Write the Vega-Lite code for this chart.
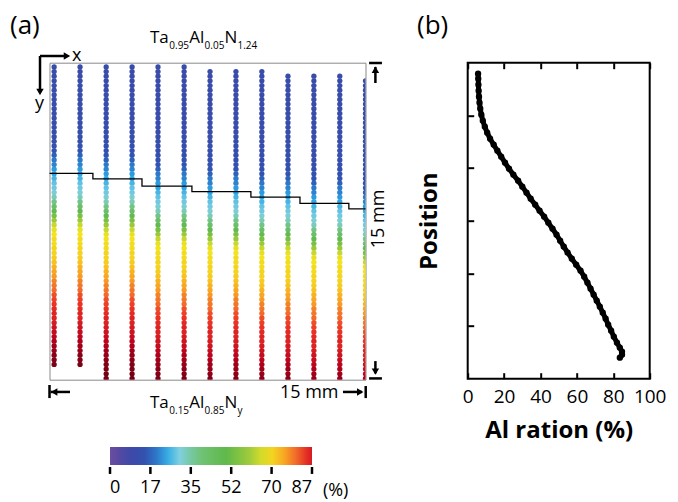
{
"$schema": "https://vega.github.io/schema/vega-lite/v6.json",
"background": "white",
"padding": {"left": 9.5, "top": 11.7, "right": 0, "bottom": 0},
"bounds": "flush",
"spacing": 102.2,
"config": {"font": "Open Sans", "view": {"stroke": null}},
"hconcat": [
{
"width": 316, "height": 317,
"view": {"stroke": "#8a8a8a", "strokeWidth": 1},
"encoding": {
"x": {"field": "c", "type": "quantitative", "scale": {"domain": [0, 15], "nice": false, "zero": false}, "axis": null},
"y": {"field": "p", "type": "quantitative", "scale": {"domain": [0, 15], "nice": false, "zero": false, "reverse": true}, "axis": null}
},
"layer": [
{
"data": {"values": [
{"c":0.22,"p":0.2,"v":11},{"c":0.22,"p":0.42,"v":11},{"c":0.22,"p":0.64,"v":11},{"c":0.22,"p":0.86,"v":11},{"c":0.22,"p":1.08,"v":11},{"c":0.22,"p":1.3,"v":12},{"c":0.22,"p":1.52,"v":12},{"c":0.22,"p":1.74,"v":12},{"c":0.22,"p":1.96,"v":12},{"c":0.22,"p":2.18,"v":12},{"c":0.22,"p":2.4,"v":12},{"c":0.22,"p":2.62,"v":12},{"c":0.22,"p":2.84,"v":13},{"c":0.22,"p":3.06,"v":13},{"c":0.22,"p":3.28,"v":13},{"c":0.22,"p":3.5,"v":13},{"c":0.22,"p":3.72,"v":14},{"c":0.22,"p":3.94,"v":15},{"c":0.22,"p":4.16,"v":16},{"c":0.22,"p":4.38,"v":18},{"c":0.22,"p":4.6,"v":20},{"c":0.22,"p":4.82,"v":21},{"c":0.22,"p":5.04,"v":23},{"c":0.22,"p":5.26,"v":24},{"c":0.22,"p":5.48,"v":26},{"c":0.22,"p":5.7,"v":28},{"c":0.22,"p":5.92,"v":29},{"c":0.22,"p":6.14,"v":31},{"c":0.22,"p":6.36,"v":33},{"c":0.22,"p":6.58,"v":37},{"c":0.22,"p":6.8,"v":42},{"c":0.22,"p":7.02,"v":48},{"c":0.22,"p":7.24,"v":54},{"c":0.22,"p":7.46,"v":59},{"c":0.22,"p":7.68,"v":64},{"c":0.22,"p":7.9,"v":67},{"c":0.22,"p":8.12,"v":68},{"c":0.22,"p":8.34,"v":69},{"c":0.22,"p":8.56,"v":69},{"c":0.22,"p":8.78,"v":70},{"c":0.22,"p":9,"v":70},{"c":0.22,"p":9.22,"v":71},{"c":0.22,"p":9.44,"v":72},{"c":0.22,"p":9.66,"v":74},{"c":0.22,"p":9.88,"v":75},{"c":0.22,"p":10.1,"v":76},{"c":0.22,"p":10.32,"v":78},{"c":0.22,"p":10.54,"v":79},{"c":0.22,"p":10.76,"v":80},{"c":0.22,"p":10.98,"v":82},{"c":0.22,"p":11.2,"v":83},{"c":0.22,"p":11.42,"v":84},{"c":0.22,"p":11.64,"v":85},{"c":0.22,"p":11.86,"v":86},{"c":0.22,"p":12.08,"v":86},{"c":0.22,"p":12.3,"v":87},{"c":0.22,"p":12.52,"v":88},{"c":0.22,"p":12.74,"v":89},{"c":0.22,"p":12.96,"v":90},{"c":0.22,"p":13.18,"v":92},{"c":0.22,"p":13.4,"v":94},{"c":0.22,"p":13.62,"v":95},{"c":0.22,"p":13.84,"v":97},{"c":0.22,"p":14.06,"v":98},{"c":0.22,"p":14.28,"v":99},
{"c":1.45,"p":0.2,"v":11},{"c":1.45,"p":0.42,"v":11},{"c":1.45,"p":0.64,"v":11},{"c":1.45,"p":0.86,"v":11},{"c":1.45,"p":1.08,"v":11},{"c":1.45,"p":1.3,"v":12},{"c":1.45,"p":1.52,"v":12},{"c":1.45,"p":1.74,"v":12},{"c":1.45,"p":1.96,"v":12},{"c":1.45,"p":2.18,"v":12},{"c":1.45,"p":2.4,"v":12},{"c":1.45,"p":2.62,"v":12},{"c":1.45,"p":2.84,"v":13},{"c":1.45,"p":3.06,"v":13},{"c":1.45,"p":3.28,"v":13},{"c":1.45,"p":3.5,"v":13},{"c":1.45,"p":3.72,"v":14},{"c":1.45,"p":3.94,"v":15},{"c":1.45,"p":4.16,"v":16},{"c":1.45,"p":4.38,"v":18},{"c":1.45,"p":4.6,"v":20},{"c":1.45,"p":4.82,"v":21},{"c":1.45,"p":5.04,"v":23},{"c":1.45,"p":5.26,"v":24},{"c":1.45,"p":5.48,"v":26},{"c":1.45,"p":5.7,"v":28},{"c":1.45,"p":5.92,"v":29},{"c":1.45,"p":6.14,"v":31},{"c":1.45,"p":6.36,"v":33},{"c":1.45,"p":6.58,"v":37},{"c":1.45,"p":6.8,"v":42},{"c":1.45,"p":7.02,"v":48},{"c":1.45,"p":7.24,"v":54},{"c":1.45,"p":7.46,"v":59},{"c":1.45,"p":7.68,"v":64},{"c":1.45,"p":7.9,"v":67},{"c":1.45,"p":8.12,"v":68},{"c":1.45,"p":8.34,"v":69},{"c":1.45,"p":8.56,"v":69},{"c":1.45,"p":8.78,"v":70},{"c":1.45,"p":9,"v":70},{"c":1.45,"p":9.22,"v":71},{"c":1.45,"p":9.44,"v":72},{"c":1.45,"p":9.66,"v":74},{"c":1.45,"p":9.88,"v":75},{"c":1.45,"p":10.1,"v":76},{"c":1.45,"p":10.32,"v":78},{"c":1.45,"p":10.54,"v":79},{"c":1.45,"p":10.76,"v":80},{"c":1.45,"p":10.98,"v":82},{"c":1.45,"p":11.2,"v":83},{"c":1.45,"p":11.42,"v":84},{"c":1.45,"p":11.64,"v":85},{"c":1.45,"p":11.86,"v":86},{"c":1.45,"p":12.08,"v":86},{"c":1.45,"p":12.3,"v":87},{"c":1.45,"p":12.52,"v":88},{"c":1.45,"p":12.74,"v":89},{"c":1.45,"p":12.96,"v":90},{"c":1.45,"p":13.18,"v":92},{"c":1.45,"p":13.4,"v":94},{"c":1.45,"p":13.62,"v":95},{"c":1.45,"p":13.84,"v":97},{"c":1.45,"p":14.06,"v":98},{"c":1.45,"p":14.28,"v":99},
{"c":2.69,"p":0.2,"v":11},{"c":2.69,"p":0.42,"v":11},{"c":2.69,"p":0.64,"v":11},{"c":2.69,"p":0.86,"v":11},{"c":2.69,"p":1.08,"v":11},{"c":2.69,"p":1.3,"v":11},{"c":2.69,"p":1.52,"v":12},{"c":2.69,"p":1.74,"v":12},{"c":2.69,"p":1.96,"v":12},{"c":2.69,"p":2.18,"v":12},{"c":2.69,"p":2.4,"v":12},{"c":2.69,"p":2.62,"v":12},{"c":2.69,"p":2.84,"v":12},{"c":2.69,"p":3.06,"v":13},{"c":2.69,"p":3.28,"v":13},{"c":2.69,"p":3.5,"v":13},{"c":2.69,"p":3.72,"v":13},{"c":2.69,"p":3.94,"v":14},{"c":2.69,"p":4.16,"v":15},{"c":2.69,"p":4.38,"v":16},{"c":2.69,"p":4.6,"v":18},{"c":2.69,"p":4.82,"v":20},{"c":2.69,"p":5.04,"v":21},{"c":2.69,"p":5.26,"v":23},{"c":2.69,"p":5.48,"v":24},{"c":2.69,"p":5.7,"v":26},{"c":2.69,"p":5.92,"v":28},{"c":2.69,"p":6.14,"v":29},{"c":2.69,"p":6.36,"v":31},{"c":2.69,"p":6.58,"v":33},{"c":2.69,"p":6.8,"v":37},{"c":2.69,"p":7.02,"v":42},{"c":2.69,"p":7.24,"v":48},{"c":2.69,"p":7.46,"v":54},{"c":2.69,"p":7.68,"v":59},{"c":2.69,"p":7.9,"v":64},{"c":2.69,"p":8.12,"v":67},{"c":2.69,"p":8.34,"v":68},{"c":2.69,"p":8.56,"v":69},{"c":2.69,"p":8.78,"v":69},{"c":2.69,"p":9,"v":70},{"c":2.69,"p":9.22,"v":70},{"c":2.69,"p":9.44,"v":71},{"c":2.69,"p":9.66,"v":72},{"c":2.69,"p":9.88,"v":74},{"c":2.69,"p":10.1,"v":75},{"c":2.69,"p":10.32,"v":76},{"c":2.69,"p":10.54,"v":78},{"c":2.69,"p":10.76,"v":79},{"c":2.69,"p":10.98,"v":80},{"c":2.69,"p":11.2,"v":82},{"c":2.69,"p":11.42,"v":83},{"c":2.69,"p":11.64,"v":84},{"c":2.69,"p":11.86,"v":85},{"c":2.69,"p":12.08,"v":86},{"c":2.69,"p":12.3,"v":86},{"c":2.69,"p":12.52,"v":87},{"c":2.69,"p":12.74,"v":88},{"c":2.69,"p":12.96,"v":89},{"c":2.69,"p":13.18,"v":90},{"c":2.69,"p":13.4,"v":92},{"c":2.69,"p":13.62,"v":94},{"c":2.69,"p":13.84,"v":95},{"c":2.69,"p":14.06,"v":97},{"c":2.69,"p":14.28,"v":98},{"c":2.69,"p":14.5,"v":99},{"c":2.69,"p":14.72,"v":100},{"c":2.69,"p":14.94,"v":100},
{"c":3.92,"p":0.2,"v":11},{"c":3.92,"p":0.42,"v":11},{"c":3.92,"p":0.64,"v":11},{"c":3.92,"p":0.86,"v":11},{"c":3.92,"p":1.08,"v":11},{"c":3.92,"p":1.3,"v":11},{"c":3.92,"p":1.52,"v":12},{"c":3.92,"p":1.74,"v":12},{"c":3.92,"p":1.96,"v":12},{"c":3.92,"p":2.18,"v":12},{"c":3.92,"p":2.4,"v":12},{"c":3.92,"p":2.62,"v":12},{"c":3.92,"p":2.84,"v":12},{"c":3.92,"p":3.06,"v":13},{"c":3.92,"p":3.28,"v":13},{"c":3.92,"p":3.5,"v":13},{"c":3.92,"p":3.72,"v":13},{"c":3.92,"p":3.94,"v":14},{"c":3.92,"p":4.16,"v":15},{"c":3.92,"p":4.38,"v":16},{"c":3.92,"p":4.6,"v":18},{"c":3.92,"p":4.82,"v":20},{"c":3.92,"p":5.04,"v":21},{"c":3.92,"p":5.26,"v":23},{"c":3.92,"p":5.48,"v":24},{"c":3.92,"p":5.7,"v":26},{"c":3.92,"p":5.92,"v":28},{"c":3.92,"p":6.14,"v":29},{"c":3.92,"p":6.36,"v":31},{"c":3.92,"p":6.58,"v":33},{"c":3.92,"p":6.8,"v":37},{"c":3.92,"p":7.02,"v":42},{"c":3.92,"p":7.24,"v":48},{"c":3.92,"p":7.46,"v":54},{"c":3.92,"p":7.68,"v":59},{"c":3.92,"p":7.9,"v":64},{"c":3.92,"p":8.12,"v":67},{"c":3.92,"p":8.34,"v":68},{"c":3.92,"p":8.56,"v":69},{"c":3.92,"p":8.78,"v":69},{"c":3.92,"p":9,"v":70},{"c":3.92,"p":9.22,"v":70},{"c":3.92,"p":9.44,"v":71},{"c":3.92,"p":9.66,"v":72},{"c":3.92,"p":9.88,"v":74},{"c":3.92,"p":10.1,"v":75},{"c":3.92,"p":10.32,"v":76},{"c":3.92,"p":10.54,"v":78},{"c":3.92,"p":10.76,"v":79},{"c":3.92,"p":10.98,"v":80},{"c":3.92,"p":11.2,"v":82},{"c":3.92,"p":11.42,"v":83},{"c":3.92,"p":11.64,"v":84},{"c":3.92,"p":11.86,"v":85},{"c":3.92,"p":12.08,"v":86},{"c":3.92,"p":12.3,"v":86},{"c":3.92,"p":12.52,"v":87},{"c":3.92,"p":12.74,"v":88},{"c":3.92,"p":12.96,"v":89},{"c":3.92,"p":13.18,"v":90},{"c":3.92,"p":13.4,"v":92},{"c":3.92,"p":13.62,"v":94},{"c":3.92,"p":13.84,"v":95},{"c":3.92,"p":14.06,"v":97},{"c":3.92,"p":14.28,"v":98},{"c":3.92,"p":14.5,"v":99},{"c":3.92,"p":14.72,"v":100},{"c":3.92,"p":14.94,"v":100},
{"c":5.15,"p":0.2,"v":11},{"c":5.15,"p":0.42,"v":11},{"c":5.15,"p":0.64,"v":11},{"c":5.15,"p":0.86,"v":11},{"c":5.15,"p":1.08,"v":11},{"c":5.15,"p":1.3,"v":11},{"c":5.15,"p":1.52,"v":11},{"c":5.15,"p":1.74,"v":11},{"c":5.15,"p":1.96,"v":12},{"c":5.15,"p":2.18,"v":12},{"c":5.15,"p":2.4,"v":12},{"c":5.15,"p":2.62,"v":12},{"c":5.15,"p":2.84,"v":12},{"c":5.15,"p":3.06,"v":12},{"c":5.15,"p":3.28,"v":12},{"c":5.15,"p":3.5,"v":13},{"c":5.15,"p":3.72,"v":13},{"c":5.15,"p":3.94,"v":13},{"c":5.15,"p":4.16,"v":13},{"c":5.15,"p":4.38,"v":14},{"c":5.15,"p":4.6,"v":15},{"c":5.15,"p":4.82,"v":16},{"c":5.15,"p":5.04,"v":18},{"c":5.15,"p":5.26,"v":20},{"c":5.15,"p":5.48,"v":21},{"c":5.15,"p":5.7,"v":23},{"c":5.15,"p":5.92,"v":24},{"c":5.15,"p":6.14,"v":26},{"c":5.15,"p":6.36,"v":28},{"c":5.15,"p":6.58,"v":29},{"c":5.15,"p":6.8,"v":31},{"c":5.15,"p":7.02,"v":33},{"c":5.15,"p":7.24,"v":37},{"c":5.15,"p":7.46,"v":42},{"c":5.15,"p":7.68,"v":48},{"c":5.15,"p":7.9,"v":54},{"c":5.15,"p":8.12,"v":59},{"c":5.15,"p":8.34,"v":64},{"c":5.15,"p":8.56,"v":67},{"c":5.15,"p":8.78,"v":68},{"c":5.15,"p":9,"v":69},{"c":5.15,"p":9.22,"v":69},{"c":5.15,"p":9.44,"v":70},{"c":5.15,"p":9.66,"v":70},{"c":5.15,"p":9.88,"v":71},{"c":5.15,"p":10.1,"v":72},{"c":5.15,"p":10.32,"v":74},{"c":5.15,"p":10.54,"v":75},{"c":5.15,"p":10.76,"v":76},{"c":5.15,"p":10.98,"v":78},{"c":5.15,"p":11.2,"v":79},{"c":5.15,"p":11.42,"v":80},{"c":5.15,"p":11.64,"v":82},{"c":5.15,"p":11.86,"v":83},{"c":5.15,"p":12.08,"v":84},{"c":5.15,"p":12.3,"v":85},{"c":5.15,"p":12.52,"v":86},{"c":5.15,"p":12.74,"v":86},{"c":5.15,"p":12.96,"v":87},{"c":5.15,"p":13.18,"v":88},{"c":5.15,"p":13.4,"v":89},{"c":5.15,"p":13.62,"v":90},{"c":5.15,"p":13.84,"v":92},{"c":5.15,"p":14.06,"v":94},{"c":5.15,"p":14.28,"v":95},{"c":5.15,"p":14.5,"v":97},{"c":5.15,"p":14.72,"v":98},{"c":5.15,"p":14.94,"v":99},
{"c":6.39,"p":0.2,"v":11},{"c":6.39,"p":0.42,"v":11},{"c":6.39,"p":0.64,"v":11},{"c":6.39,"p":0.86,"v":11},{"c":6.39,"p":1.08,"v":11},{"c":6.39,"p":1.3,"v":11},{"c":6.39,"p":1.52,"v":11},{"c":6.39,"p":1.74,"v":11},{"c":6.39,"p":1.96,"v":12},{"c":6.39,"p":2.18,"v":12},{"c":6.39,"p":2.4,"v":12},{"c":6.39,"p":2.62,"v":12},{"c":6.39,"p":2.84,"v":12},{"c":6.39,"p":3.06,"v":12},{"c":6.39,"p":3.28,"v":12},{"c":6.39,"p":3.5,"v":13},{"c":6.39,"p":3.72,"v":13},{"c":6.39,"p":3.94,"v":13},{"c":6.39,"p":4.16,"v":13},{"c":6.39,"p":4.38,"v":14},{"c":6.39,"p":4.6,"v":15},{"c":6.39,"p":4.82,"v":16},{"c":6.39,"p":5.04,"v":18},{"c":6.39,"p":5.26,"v":20},{"c":6.39,"p":5.48,"v":21},{"c":6.39,"p":5.7,"v":23},{"c":6.39,"p":5.92,"v":24},{"c":6.39,"p":6.14,"v":26},{"c":6.39,"p":6.36,"v":28},{"c":6.39,"p":6.58,"v":29},{"c":6.39,"p":6.8,"v":31},{"c":6.39,"p":7.02,"v":33},{"c":6.39,"p":7.24,"v":37},{"c":6.39,"p":7.46,"v":42},{"c":6.39,"p":7.68,"v":48},{"c":6.39,"p":7.9,"v":54},{"c":6.39,"p":8.12,"v":59},{"c":6.39,"p":8.34,"v":64},{"c":6.39,"p":8.56,"v":67},{"c":6.39,"p":8.78,"v":68},{"c":6.39,"p":9,"v":69},{"c":6.39,"p":9.22,"v":69},{"c":6.39,"p":9.44,"v":70},{"c":6.39,"p":9.66,"v":70},{"c":6.39,"p":9.88,"v":71},{"c":6.39,"p":10.1,"v":72},{"c":6.39,"p":10.32,"v":74},{"c":6.39,"p":10.54,"v":75},{"c":6.39,"p":10.76,"v":76},{"c":6.39,"p":10.98,"v":78},{"c":6.39,"p":11.2,"v":79},{"c":6.39,"p":11.42,"v":80},{"c":6.39,"p":11.64,"v":82},{"c":6.39,"p":11.86,"v":83},{"c":6.39,"p":12.08,"v":84},{"c":6.39,"p":12.3,"v":85},{"c":6.39,"p":12.52,"v":86},{"c":6.39,"p":12.74,"v":86},{"c":6.39,"p":12.96,"v":87},{"c":6.39,"p":13.18,"v":88},{"c":6.39,"p":13.4,"v":89},{"c":6.39,"p":13.62,"v":90},{"c":6.39,"p":13.84,"v":92},{"c":6.39,"p":14.06,"v":94},{"c":6.39,"p":14.28,"v":95},{"c":6.39,"p":14.5,"v":97},{"c":6.39,"p":14.72,"v":98},{"c":6.39,"p":14.94,"v":99},
{"c":7.62,"p":0.42,"v":11},{"c":7.62,"p":0.64,"v":11},{"c":7.62,"p":0.86,"v":11},{"c":7.62,"p":1.08,"v":11},{"c":7.62,"p":1.3,"v":11},{"c":7.62,"p":1.52,"v":11},{"c":7.62,"p":1.74,"v":11},{"c":7.62,"p":1.96,"v":11},{"c":7.62,"p":2.18,"v":12},{"c":7.62,"p":2.4,"v":12},{"c":7.62,"p":2.62,"v":12},{"c":7.62,"p":2.84,"v":12},{"c":7.62,"p":3.06,"v":12},{"c":7.62,"p":3.28,"v":12},{"c":7.62,"p":3.5,"v":12},{"c":7.62,"p":3.72,"v":13},{"c":7.62,"p":3.94,"v":13},{"c":7.62,"p":4.16,"v":13},{"c":7.62,"p":4.38,"v":13},{"c":7.62,"p":4.6,"v":14},{"c":7.62,"p":4.82,"v":15},{"c":7.62,"p":5.04,"v":16},{"c":7.62,"p":5.26,"v":18},{"c":7.62,"p":5.48,"v":20},{"c":7.62,"p":5.7,"v":21},{"c":7.62,"p":5.92,"v":23},{"c":7.62,"p":6.14,"v":24},{"c":7.62,"p":6.36,"v":26},{"c":7.62,"p":6.58,"v":28},{"c":7.62,"p":6.8,"v":29},{"c":7.62,"p":7.02,"v":31},{"c":7.62,"p":7.24,"v":33},{"c":7.62,"p":7.46,"v":37},{"c":7.62,"p":7.68,"v":42},{"c":7.62,"p":7.9,"v":48},{"c":7.62,"p":8.12,"v":54},{"c":7.62,"p":8.34,"v":59},{"c":7.62,"p":8.56,"v":64},{"c":7.62,"p":8.78,"v":67},{"c":7.62,"p":9,"v":68},{"c":7.62,"p":9.22,"v":69},{"c":7.62,"p":9.44,"v":69},{"c":7.62,"p":9.66,"v":70},{"c":7.62,"p":9.88,"v":70},{"c":7.62,"p":10.1,"v":71},{"c":7.62,"p":10.32,"v":72},{"c":7.62,"p":10.54,"v":74},{"c":7.62,"p":10.76,"v":75},{"c":7.62,"p":10.98,"v":76},{"c":7.62,"p":11.2,"v":78},{"c":7.62,"p":11.42,"v":79},{"c":7.62,"p":11.64,"v":80},{"c":7.62,"p":11.86,"v":82},{"c":7.62,"p":12.08,"v":83},{"c":7.62,"p":12.3,"v":84},{"c":7.62,"p":12.52,"v":85},{"c":7.62,"p":12.74,"v":86},{"c":7.62,"p":12.96,"v":86},{"c":7.62,"p":13.18,"v":87},{"c":7.62,"p":13.4,"v":88},{"c":7.62,"p":13.62,"v":89},{"c":7.62,"p":13.84,"v":90},{"c":7.62,"p":14.06,"v":92},{"c":7.62,"p":14.28,"v":94},{"c":7.62,"p":14.5,"v":95},{"c":7.62,"p":14.72,"v":97},{"c":7.62,"p":14.94,"v":98},
{"c":8.85,"p":0.42,"v":11},{"c":8.85,"p":0.64,"v":11},{"c":8.85,"p":0.86,"v":11},{"c":8.85,"p":1.08,"v":11},{"c":8.85,"p":1.3,"v":11},{"c":8.85,"p":1.52,"v":11},{"c":8.85,"p":1.74,"v":11},{"c":8.85,"p":1.96,"v":11},{"c":8.85,"p":2.18,"v":12},{"c":8.85,"p":2.4,"v":12},{"c":8.85,"p":2.62,"v":12},{"c":8.85,"p":2.84,"v":12},{"c":8.85,"p":3.06,"v":12},{"c":8.85,"p":3.28,"v":12},{"c":8.85,"p":3.5,"v":12},{"c":8.85,"p":3.72,"v":13},{"c":8.85,"p":3.94,"v":13},{"c":8.85,"p":4.16,"v":13},{"c":8.85,"p":4.38,"v":13},{"c":8.85,"p":4.6,"v":14},{"c":8.85,"p":4.82,"v":15},{"c":8.85,"p":5.04,"v":16},{"c":8.85,"p":5.26,"v":18},{"c":8.85,"p":5.48,"v":20},{"c":8.85,"p":5.7,"v":21},{"c":8.85,"p":5.92,"v":23},{"c":8.85,"p":6.14,"v":24},{"c":8.85,"p":6.36,"v":26},{"c":8.85,"p":6.58,"v":28},{"c":8.85,"p":6.8,"v":29},{"c":8.85,"p":7.02,"v":31},{"c":8.85,"p":7.24,"v":33},{"c":8.85,"p":7.46,"v":37},{"c":8.85,"p":7.68,"v":42},{"c":8.85,"p":7.9,"v":48},{"c":8.85,"p":8.12,"v":54},{"c":8.85,"p":8.34,"v":59},{"c":8.85,"p":8.56,"v":64},{"c":8.85,"p":8.78,"v":67},{"c":8.85,"p":9,"v":68},{"c":8.85,"p":9.22,"v":69},{"c":8.85,"p":9.44,"v":69},{"c":8.85,"p":9.66,"v":70},{"c":8.85,"p":9.88,"v":70},{"c":8.85,"p":10.1,"v":71},{"c":8.85,"p":10.32,"v":72},{"c":8.85,"p":10.54,"v":74},{"c":8.85,"p":10.76,"v":75},{"c":8.85,"p":10.98,"v":76},{"c":8.85,"p":11.2,"v":78},{"c":8.85,"p":11.42,"v":79},{"c":8.85,"p":11.64,"v":80},{"c":8.85,"p":11.86,"v":82},{"c":8.85,"p":12.08,"v":83},{"c":8.85,"p":12.3,"v":84},{"c":8.85,"p":12.52,"v":85},{"c":8.85,"p":12.74,"v":86},{"c":8.85,"p":12.96,"v":86},{"c":8.85,"p":13.18,"v":87},{"c":8.85,"p":13.4,"v":88},{"c":8.85,"p":13.62,"v":89},{"c":8.85,"p":13.84,"v":90},{"c":8.85,"p":14.06,"v":92},{"c":8.85,"p":14.28,"v":94},{"c":8.85,"p":14.5,"v":95},{"c":8.85,"p":14.72,"v":97},{"c":8.85,"p":14.94,"v":98},
{"c":10.08,"p":0.42,"v":11},{"c":10.08,"p":0.64,"v":11},{"c":10.08,"p":0.86,"v":11},{"c":10.08,"p":1.08,"v":11},{"c":10.08,"p":1.3,"v":11},{"c":10.08,"p":1.52,"v":11},{"c":10.08,"p":1.74,"v":11},{"c":10.08,"p":1.96,"v":11},{"c":10.08,"p":2.18,"v":11},{"c":10.08,"p":2.4,"v":12},{"c":10.08,"p":2.62,"v":12},{"c":10.08,"p":2.84,"v":12},{"c":10.08,"p":3.06,"v":12},{"c":10.08,"p":3.28,"v":12},{"c":10.08,"p":3.5,"v":12},{"c":10.08,"p":3.72,"v":12},{"c":10.08,"p":3.94,"v":13},{"c":10.08,"p":4.16,"v":13},{"c":10.08,"p":4.38,"v":13},{"c":10.08,"p":4.6,"v":13},{"c":10.08,"p":4.82,"v":14},{"c":10.08,"p":5.04,"v":15},{"c":10.08,"p":5.26,"v":16},{"c":10.08,"p":5.48,"v":18},{"c":10.08,"p":5.7,"v":20},{"c":10.08,"p":5.92,"v":21},{"c":10.08,"p":6.14,"v":23},{"c":10.08,"p":6.36,"v":24},{"c":10.08,"p":6.58,"v":26},{"c":10.08,"p":6.8,"v":28},{"c":10.08,"p":7.02,"v":29},{"c":10.08,"p":7.24,"v":31},{"c":10.08,"p":7.46,"v":33},{"c":10.08,"p":7.68,"v":37},{"c":10.08,"p":7.9,"v":42},{"c":10.08,"p":8.12,"v":48},{"c":10.08,"p":8.34,"v":54},{"c":10.08,"p":8.56,"v":59},{"c":10.08,"p":8.78,"v":64},{"c":10.08,"p":9,"v":67},{"c":10.08,"p":9.22,"v":68},{"c":10.08,"p":9.44,"v":69},{"c":10.08,"p":9.66,"v":69},{"c":10.08,"p":9.88,"v":70},{"c":10.08,"p":10.1,"v":70},{"c":10.08,"p":10.32,"v":71},{"c":10.08,"p":10.54,"v":72},{"c":10.08,"p":10.76,"v":74},{"c":10.08,"p":10.98,"v":75},{"c":10.08,"p":11.2,"v":76},{"c":10.08,"p":11.42,"v":78},{"c":10.08,"p":11.64,"v":79},{"c":10.08,"p":11.86,"v":80},{"c":10.08,"p":12.08,"v":82},{"c":10.08,"p":12.3,"v":83},{"c":10.08,"p":12.52,"v":84},{"c":10.08,"p":12.74,"v":85},{"c":10.08,"p":12.96,"v":86},{"c":10.08,"p":13.18,"v":86},{"c":10.08,"p":13.4,"v":87},{"c":10.08,"p":13.62,"v":88},{"c":10.08,"p":13.84,"v":89},{"c":10.08,"p":14.06,"v":90},{"c":10.08,"p":14.28,"v":92},{"c":10.08,"p":14.5,"v":94},{"c":10.08,"p":14.72,"v":95},{"c":10.08,"p":14.94,"v":97},
{"c":11.32,"p":0.64,"v":11},{"c":11.32,"p":0.86,"v":11},{"c":11.32,"p":1.08,"v":11},{"c":11.32,"p":1.3,"v":11},{"c":11.32,"p":1.52,"v":11},{"c":11.32,"p":1.74,"v":11},{"c":11.32,"p":1.96,"v":11},{"c":11.32,"p":2.18,"v":11},{"c":11.32,"p":2.4,"v":12},{"c":11.32,"p":2.62,"v":12},{"c":11.32,"p":2.84,"v":12},{"c":11.32,"p":3.06,"v":12},{"c":11.32,"p":3.28,"v":12},{"c":11.32,"p":3.5,"v":12},{"c":11.32,"p":3.72,"v":12},{"c":11.32,"p":3.94,"v":13},{"c":11.32,"p":4.16,"v":13},{"c":11.32,"p":4.38,"v":13},{"c":11.32,"p":4.6,"v":13},{"c":11.32,"p":4.82,"v":14},{"c":11.32,"p":5.04,"v":15},{"c":11.32,"p":5.26,"v":16},{"c":11.32,"p":5.48,"v":18},{"c":11.32,"p":5.7,"v":20},{"c":11.32,"p":5.92,"v":21},{"c":11.32,"p":6.14,"v":23},{"c":11.32,"p":6.36,"v":24},{"c":11.32,"p":6.58,"v":26},{"c":11.32,"p":6.8,"v":28},{"c":11.32,"p":7.02,"v":29},{"c":11.32,"p":7.24,"v":31},{"c":11.32,"p":7.46,"v":33},{"c":11.32,"p":7.68,"v":37},{"c":11.32,"p":7.9,"v":42},{"c":11.32,"p":8.12,"v":48},{"c":11.32,"p":8.34,"v":54},{"c":11.32,"p":8.56,"v":59},{"c":11.32,"p":8.78,"v":64},{"c":11.32,"p":9,"v":67},{"c":11.32,"p":9.22,"v":68},{"c":11.32,"p":9.44,"v":69},{"c":11.32,"p":9.66,"v":69},{"c":11.32,"p":9.88,"v":70},{"c":11.32,"p":10.1,"v":70},{"c":11.32,"p":10.32,"v":71},{"c":11.32,"p":10.54,"v":72},{"c":11.32,"p":10.76,"v":74},{"c":11.32,"p":10.98,"v":75},{"c":11.32,"p":11.2,"v":76},{"c":11.32,"p":11.42,"v":78},{"c":11.32,"p":11.64,"v":79},{"c":11.32,"p":11.86,"v":80},{"c":11.32,"p":12.08,"v":82},{"c":11.32,"p":12.3,"v":83},{"c":11.32,"p":12.52,"v":84},{"c":11.32,"p":12.74,"v":85},{"c":11.32,"p":12.96,"v":86},{"c":11.32,"p":13.18,"v":86},{"c":11.32,"p":13.4,"v":87},{"c":11.32,"p":13.62,"v":88},{"c":11.32,"p":13.84,"v":89},{"c":11.32,"p":14.06,"v":90},{"c":11.32,"p":14.28,"v":92},{"c":11.32,"p":14.5,"v":94},{"c":11.32,"p":14.72,"v":95},{"c":11.32,"p":14.94,"v":97},
{"c":12.55,"p":0.64,"v":11},{"c":12.55,"p":0.86,"v":11},{"c":12.55,"p":1.08,"v":11},{"c":12.55,"p":1.3,"v":11},{"c":12.55,"p":1.52,"v":11},{"c":12.55,"p":1.74,"v":11},{"c":12.55,"p":1.96,"v":11},{"c":12.55,"p":2.18,"v":11},{"c":12.55,"p":2.4,"v":11},{"c":12.55,"p":2.62,"v":12},{"c":12.55,"p":2.84,"v":12},{"c":12.55,"p":3.06,"v":12},{"c":12.55,"p":3.28,"v":12},{"c":12.55,"p":3.5,"v":12},{"c":12.55,"p":3.72,"v":12},{"c":12.55,"p":3.94,"v":12},{"c":12.55,"p":4.16,"v":13},{"c":12.55,"p":4.38,"v":13},{"c":12.55,"p":4.6,"v":13},{"c":12.55,"p":4.82,"v":13},{"c":12.55,"p":5.04,"v":14},{"c":12.55,"p":5.26,"v":15},{"c":12.55,"p":5.48,"v":16},{"c":12.55,"p":5.7,"v":18},{"c":12.55,"p":5.92,"v":20},{"c":12.55,"p":6.14,"v":21},{"c":12.55,"p":6.36,"v":23},{"c":12.55,"p":6.58,"v":24},{"c":12.55,"p":6.8,"v":26},{"c":12.55,"p":7.02,"v":28},{"c":12.55,"p":7.24,"v":29},{"c":12.55,"p":7.46,"v":31},{"c":12.55,"p":7.68,"v":33},{"c":12.55,"p":7.9,"v":37},{"c":12.55,"p":8.12,"v":42},{"c":12.55,"p":8.34,"v":48},{"c":12.55,"p":8.56,"v":54},{"c":12.55,"p":8.78,"v":59},{"c":12.55,"p":9,"v":64},{"c":12.55,"p":9.22,"v":67},{"c":12.55,"p":9.44,"v":68},{"c":12.55,"p":9.66,"v":69},{"c":12.55,"p":9.88,"v":69},{"c":12.55,"p":10.1,"v":70},{"c":12.55,"p":10.32,"v":70},{"c":12.55,"p":10.54,"v":71},{"c":12.55,"p":10.76,"v":72},{"c":12.55,"p":10.98,"v":74},{"c":12.55,"p":11.2,"v":75},{"c":12.55,"p":11.42,"v":76},{"c":12.55,"p":11.64,"v":78},{"c":12.55,"p":11.86,"v":79},{"c":12.55,"p":12.08,"v":80},{"c":12.55,"p":12.3,"v":82},{"c":12.55,"p":12.52,"v":83},{"c":12.55,"p":12.74,"v":84},{"c":12.55,"p":12.96,"v":85},{"c":12.55,"p":13.18,"v":86},{"c":12.55,"p":13.4,"v":86},{"c":12.55,"p":13.62,"v":87},{"c":12.55,"p":13.84,"v":88},{"c":12.55,"p":14.06,"v":89},{"c":12.55,"p":14.28,"v":90},{"c":12.55,"p":14.5,"v":92},{"c":12.55,"p":14.72,"v":94},{"c":12.55,"p":14.94,"v":95},
{"c":13.78,"p":0.64,"v":11},{"c":13.78,"p":0.86,"v":11},{"c":13.78,"p":1.08,"v":11},{"c":13.78,"p":1.3,"v":11},{"c":13.78,"p":1.52,"v":11},{"c":13.78,"p":1.74,"v":11},{"c":13.78,"p":1.96,"v":11},{"c":13.78,"p":2.18,"v":11},{"c":13.78,"p":2.4,"v":11},{"c":13.78,"p":2.62,"v":12},{"c":13.78,"p":2.84,"v":12},{"c":13.78,"p":3.06,"v":12},{"c":13.78,"p":3.28,"v":12},{"c":13.78,"p":3.5,"v":12},{"c":13.78,"p":3.72,"v":12},{"c":13.78,"p":3.94,"v":12},{"c":13.78,"p":4.16,"v":13},{"c":13.78,"p":4.38,"v":13},{"c":13.78,"p":4.6,"v":13},{"c":13.78,"p":4.82,"v":13},{"c":13.78,"p":5.04,"v":14},{"c":13.78,"p":5.26,"v":15},{"c":13.78,"p":5.48,"v":16},{"c":13.78,"p":5.7,"v":18},{"c":13.78,"p":5.92,"v":20},{"c":13.78,"p":6.14,"v":21},{"c":13.78,"p":6.36,"v":23},{"c":13.78,"p":6.58,"v":24},{"c":13.78,"p":6.8,"v":26},{"c":13.78,"p":7.02,"v":28},{"c":13.78,"p":7.24,"v":29},{"c":13.78,"p":7.46,"v":31},{"c":13.78,"p":7.68,"v":33},{"c":13.78,"p":7.9,"v":37},{"c":13.78,"p":8.12,"v":42},{"c":13.78,"p":8.34,"v":48},{"c":13.78,"p":8.56,"v":54},{"c":13.78,"p":8.78,"v":59},{"c":13.78,"p":9,"v":64},{"c":13.78,"p":9.22,"v":67},{"c":13.78,"p":9.44,"v":68},{"c":13.78,"p":9.66,"v":69},{"c":13.78,"p":9.88,"v":69},{"c":13.78,"p":10.1,"v":70},{"c":13.78,"p":10.32,"v":70},{"c":13.78,"p":10.54,"v":71},{"c":13.78,"p":10.76,"v":72},{"c":13.78,"p":10.98,"v":74},{"c":13.78,"p":11.2,"v":75},{"c":13.78,"p":11.42,"v":76},{"c":13.78,"p":11.64,"v":78},{"c":13.78,"p":11.86,"v":79},{"c":13.78,"p":12.08,"v":80},{"c":13.78,"p":12.3,"v":82},{"c":13.78,"p":12.52,"v":83},{"c":13.78,"p":12.74,"v":84},{"c":13.78,"p":12.96,"v":85},{"c":13.78,"p":13.18,"v":86},{"c":13.78,"p":13.4,"v":86},{"c":13.78,"p":13.62,"v":87},{"c":13.78,"p":13.84,"v":88},{"c":13.78,"p":14.06,"v":89},{"c":13.78,"p":14.28,"v":90},{"c":13.78,"p":14.5,"v":92},{"c":13.78,"p":14.72,"v":94},{"c":13.78,"p":14.94,"v":95},
{"c":15,"p":0.86,"v":11},{"c":15,"p":1.08,"v":11},{"c":15,"p":1.3,"v":11},{"c":15,"p":1.52,"v":11},{"c":15,"p":1.74,"v":11},{"c":15,"p":1.96,"v":11},{"c":15,"p":2.18,"v":11},{"c":15,"p":2.4,"v":11},{"c":15,"p":2.62,"v":11},{"c":15,"p":2.84,"v":11},{"c":15,"p":3.06,"v":12},{"c":15,"p":3.28,"v":12},{"c":15,"p":3.5,"v":12},{"c":15,"p":3.72,"v":12},{"c":15,"p":3.94,"v":12},{"c":15,"p":4.16,"v":12},{"c":15,"p":4.38,"v":12},{"c":15,"p":4.6,"v":13},{"c":15,"p":4.82,"v":13},{"c":15,"p":5.04,"v":13},{"c":15,"p":5.26,"v":13},{"c":15,"p":5.48,"v":14},{"c":15,"p":5.7,"v":15},{"c":15,"p":5.92,"v":16},{"c":15,"p":6.14,"v":18},{"c":15,"p":6.36,"v":20},{"c":15,"p":6.58,"v":21},{"c":15,"p":6.8,"v":23},{"c":15,"p":7.02,"v":24},{"c":15,"p":7.24,"v":26},{"c":15,"p":7.46,"v":28},{"c":15,"p":7.68,"v":29},{"c":15,"p":7.9,"v":31},{"c":15,"p":8.12,"v":33},{"c":15,"p":8.34,"v":37},{"c":15,"p":8.56,"v":42},{"c":15,"p":8.78,"v":48},{"c":15,"p":9,"v":54},{"c":15,"p":9.22,"v":59},{"c":15,"p":9.44,"v":64},{"c":15,"p":9.66,"v":67},{"c":15,"p":9.88,"v":68},{"c":15,"p":10.1,"v":69},{"c":15,"p":10.32,"v":69},{"c":15,"p":10.54,"v":70},{"c":15,"p":10.76,"v":70},{"c":15,"p":10.98,"v":71},{"c":15,"p":11.2,"v":72},{"c":15,"p":11.42,"v":74},{"c":15,"p":11.64,"v":75},{"c":15,"p":11.86,"v":76},{"c":15,"p":12.08,"v":78},{"c":15,"p":12.3,"v":79},{"c":15,"p":12.52,"v":80},{"c":15,"p":12.74,"v":82},{"c":15,"p":12.96,"v":83},{"c":15,"p":13.18,"v":84},{"c":15,"p":13.4,"v":85},{"c":15,"p":13.62,"v":86},{"c":15,"p":13.84,"v":86},{"c":15,"p":14.06,"v":87},{"c":15,"p":14.28,"v":88},{"c":15,"p":14.5,"v":89},{"c":15,"p":14.72,"v":90},{"c":15,"p":14.94,"v":92}
]},
"mark": {"type": "circle", "size": 28, "opacity": 1, "clip": true},
"encoding": {
"color": {"field": "v", "type": "quantitative",
"scale": {"type": "linear", "domain": [0, 8, 17, 24, 30, 38, 50, 60, 68, 74, 80, 84, 87], "range": ["#6d4c9f", "#3f47a6", "#2f55b3", "#2ba6e6", "#7fd0e0", "#72c27a", "#5fb94a", "#9fcb3c", "#f2e41f", "#f9b322", "#f26b2a", "#ea3325", "#d41c22"], "interpolate": "rgb", "clamp": false},
"legend": {"orient": "none", "legendX": 60.5, "legendY": 384.3, "direction": "horizontal", "gradientLength": 202, "gradientThickness": 18, "gradientStrokeWidth": 0, "title": null, "values": [0, 17.4, 34.8, 52.2, 69.6, 87], "labelExpr": "format(datum.value, '.0f')", "labelFontSize": 18, "labelColor": "black", "labelOffset": 14, "labelAlign": "center", "labelOverlap": false, "labelFont": "Open Sans"}}
}
},
{
"data": {"values": [{"c":0,"p":5.24},{"c":2.06,"p":5.5},{"c":4.39,"p":5.84},{"c":6.76,"p":6.1},{"c":9.56,"p":6.36},{"c":11.89,"p":6.66},{"c":14.21,"p":6.92},{"c":15,"p":6.92}]},
"mark": {"type": "line", "interpolate": "step-after", "color": "black", "strokeWidth": 1.3},
"encoding": {}
},
{
"data": {"values": [
{"c":-0.451,"p":-0.317,"c2":0.688,"p2":-0.317},
{"c":-0.451,"p":-0.317,"c2":-0.451,"p2":1.244},
{"c":0,"p":15.25,"c2":0,"p2":15.87},
{"c":0.05,"p":15.58,"c2":0.973,"p2":15.58},
{"c":13.93,"p":15.58,"c2":14.83,"p2":15.58},
{"c":15.01,"p":15.3,"c2":15.01,"p2":15.87},
{"c":15.17,"p":0.014,"c2":15.78,"p2":0.014},
{"c":15.47,"p":0.2,"c2":15.47,"p2":0.96},
{"c":15.47,"p":14.12,"c2":15.47,"p2":14.7},
{"c":15.17,"p":14.94,"c2":15.78,"p2":14.94},
{"c":2.872,"p":19.13,"c2":2.872,"p2":19.46},
{"c":4.789,"p":19.13,"c2":4.789,"p2":19.46},
{"c":6.707,"p":19.13,"c2":6.707,"p2":19.46},
{"c":8.625,"p":19.13,"c2":8.625,"p2":19.46},
{"c":10.542,"p":19.13,"c2":10.542,"p2":19.46},
{"c":12.46,"p":19.13,"c2":12.46,"p2":19.46}
]},
"mark": {"type": "rule", "color": "black", "strokeWidth": 2.5},
"encoding": {"x2": {"field": "c2"}, "y2": {"field": "p2"}}
},
{
"data": {"values": [
{"c":0.83,"p":-0.317,"s":"triangle-right"},
{"c":-0.451,"p":1.39,"s":"triangle-down"},
{"c":0.22,"p":15.58,"s":"triangle-left"},
{"c":14.75,"p":15.58,"s":"triangle-right"},
{"c":15.47,"p":0.33,"s":"triangle-up"},
{"c":15.47,"p":14.62,"s":"triangle-down"}
]},
"mark": {"type": "point", "filled": true, "size": 55, "color": "black", "opacity": 1},
"encoding": {"shape": {"field": "s", "type": "nominal", "scale": null}}
},
{
"data": {"values": [{"c":-1.875,"p":-2.361,"t":"(a)"}]},
"mark": {"type": "text", "fontSize": 26, "align": "left", "baseline": "top", "color": "black"},
"encoding": {"text": {"field": "t"}}
},
{
"data": {"values": [
{"c":4.77,"p":-0.946,"t":"Ta"},{"c":6.636,"p":-0.946,"t":"Al"},{"c":8.312,"p":-0.946,"t":"N"},
{"c":4.77,"p":16.34,"t":"Ta"},{"c":6.636,"p":16.34,"t":"Al"},{"c":8.312,"p":16.34,"t":"N"}
]},
"mark": {"type": "text", "fontSize": 17, "align": "left", "baseline": "alphabetic", "color": "black"},
"encoding": {"text": {"field": "t"}}
},
{
"data": {"values": [
{"c":5.687,"p":-0.662,"t":"0.95"},{"c":7.362,"p":-0.662,"t":"0.05"},{"c":8.924,"p":-0.662,"t":"1.24"},
{"c":5.687,"p":16.62,"t":"0.15"},{"c":7.362,"p":16.62,"t":"0.85"},{"c":8.924,"p":16.62,"t":"y"}
]},
"mark": {"type": "text", "fontSize": 10, "align": "left", "baseline": "alphabetic", "color": "black"},
"encoding": {"text": {"field": "t"}}
},
{
"data": {"values": [
{"c":10.94,"p":15.85,"t":"15 mm"},{"c":1.068,"p":-0.104,"t":"x"},{"c":-0.688,"p":2.19,"t":"y"},{"c":12.98,"p":20.5,"t":"(%)"}
]},
"mark": {"type": "text", "fontSize": 18, "align": "left", "baseline": "alphabetic", "color": "black"},
"encoding": {"text": {"field": "t"}}
},
{
"data": {"values": [{"c":15.64,"p":7.396,"t":"15 mm"}]},
"mark": {"type": "text", "fontSize": 18, "align": "center", "baseline": "middle", "angle": 270, "color": "black"},
"encoding": {"text": {"field": "t"}}
}
]
},
{
"width": 182, "height": 316,
"view": {"stroke": "black", "strokeWidth": 2},
"data": {"values": [
{"pos":0.209,"a":5.7},{"pos":0.304,"a":5.8},{"pos":0.418,"a":5.9},{"pos":0.532,"a":6.0},{"pos":0.646,"a":6.2},{"pos":0.759,"a":6.5},{"pos":0.873,"a":6.9},{"pos":0.987,"a":7.5},{"pos":1.101,"a":8.3},{"pos":1.215,"a":9.4},{"pos":1.329,"a":10.7},{"pos":1.443,"a":12.3},{"pos":1.557,"a":14.3},{"pos":1.671,"a":16.3},{"pos":1.785,"a":18.4},{"pos":1.899,"a":20.5},{"pos":2.013,"a":22.7},{"pos":2.127,"a":25.1},{"pos":2.241,"a":27.7},{"pos":2.354,"a":30.0},{"pos":2.468,"a":32.3},{"pos":2.582,"a":34.6},{"pos":2.696,"a":37.1},{"pos":2.81,"a":39.5},{"pos":2.924,"a":42.0},{"pos":3.038,"a":44.3},{"pos":3.152,"a":46.6},{"pos":3.266,"a":48.8},{"pos":3.38,"a":50.8},{"pos":3.494,"a":52.8},{"pos":3.607,"a":54.9},{"pos":3.721,"a":57.2},{"pos":3.835,"a":59.6},{"pos":3.949,"a":62.0},{"pos":4.063,"a":64.0},{"pos":4.177,"a":65.8},{"pos":4.291,"a":67.5},{"pos":4.405,"a":69.2},{"pos":4.519,"a":70.9},{"pos":4.633,"a":72.6},{"pos":4.747,"a":74.2},{"pos":4.861,"a":75.8},{"pos":4.975,"a":77.2},{"pos":5.088,"a":78.8},{"pos":5.202,"a":80.3},{"pos":5.316,"a":82.0},{"pos":5.411,"a":83.6},{"pos":5.487,"a":84.8},{"pos":5.544,"a":84.8},{"pos":5.601,"a":83.6}
]},
"resolve": {"axis": {"x": "independent", "y": "independent"}},
"layer": [
{
"mark": {"type": "line", "color": "black", "strokeWidth": 5},
"encoding": {
"x": {"field": "a", "type": "quantitative", "scale": {"domain": [0, 100], "nice": false, "zero": false},
"axis": {"orient": "bottom", "values": [0, 20, 40, 60, 80, 100], "format": "d", "domain": false, "grid": false, "offset": -6, "tickSize": 6, "tickWidth": 2, "tickColor": "black", "labelFontSize": 19, "labelColor": "black", "labelPadding": 9, "labelFlush": false, "labelOverlap": false, "title": "Al ration (%)", "titleFontSize": 24, "titleFontWeight": "bold", "titleColor": "black", "titlePadding": 12}},
"y": {"field": "pos", "type": "quantitative", "scale": {"domain": [0, 6], "nice": false, "zero": false, "reverse": true},
"axis": {"orient": "left", "values": [1, 2, 3, 4, 5], "domain": false, "grid": false, "labels": false, "offset": -6, "tickSize": 6, "tickWidth": 2, "tickColor": "black", "title": "Position", "titleFontSize": 24, "titleFontWeight": "bold", "titleColor": "black", "titlePadding": 25}},
"order": {"field": "pos", "type": "quantitative"}
}
},
{
"mark": {"type": "circle", "color": "black", "size": 40, "opacity": 1},
"encoding": {
"x": {"field": "a", "type": "quantitative", "axis": {"orient": "top", "values": [0, 20, 40, 60, 80, 100], "domain": false, "grid": false, "labels": false, "offset": -6, "tickSize": 6, "tickWidth": 2, "tickColor": "black", "title": null}},
"y": {"field": "pos", "type": "quantitative", "axis": null}
}
},
{
"data": {"values": [{"a": -27.86, "pos": -0.947, "t": "(b)"}]},
"mark": {"type": "text", "fontSize": 26, "align": "left", "baseline": "top", "color": "black"},
"encoding": {
"x": {"field": "a", "type": "quantitative", "axis": null},
"y": {"field": "pos", "type": "quantitative", "axis": null},
"text": {"field": "t"}
}
}
]
}
]
}
